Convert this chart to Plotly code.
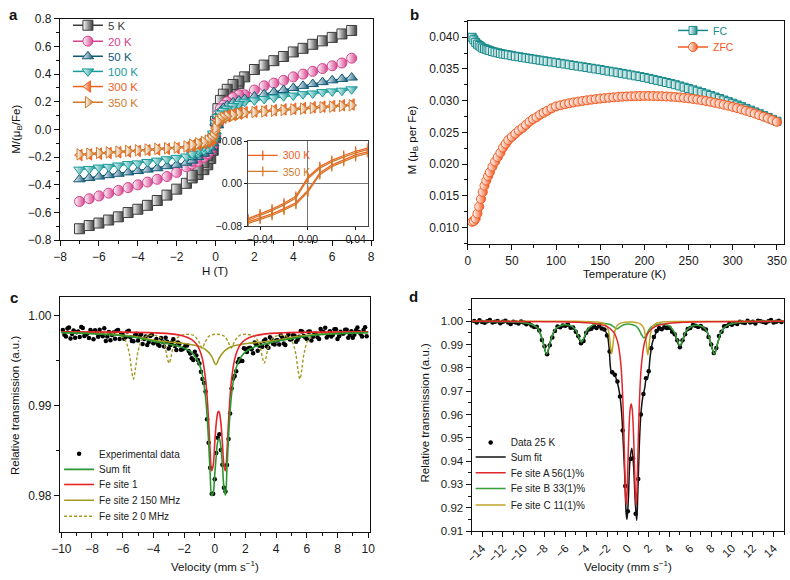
import plotly.graph_objects as go

FONT = "Liberation Sans, Arial, Helvetica, sans-serif"
FIG_W, FIG_H = 790, 580


def px(x):
    return x / FIG_W


def py(y):
    return 1 - y / FIG_H


# ------------------------------------------------------------------ panel a
TEMPS = ["5 K", "20 K", "50 K", "100 K", "300 K", "350 K"]
H_LEFT = [-7.0, -6.5, -6.0, -5.5, -5.0, -4.5, -4.0, -3.5, -3.0, -2.5, -2.0, -1.5]
H_RIGHT = [1.5, 2.0, 2.5, 3.0, 3.5, 4.0, 4.5, 5.0, 5.5, 6.0, 6.5, 7.0]
H_INNER = [-1.2, -0.9, -0.6, -0.4, -0.25, -0.12, 0.0, 0.12, 0.25, 0.4, 0.6, 0.9, 1.2]

M_LEFT_5K = [-0.717, -0.694, -0.676, -0.654, -0.631, -0.600, -0.576, -0.548, -0.513, -0.474, -0.431, -0.389]
M_RIGHT_5K = [0.380, 0.433, 0.465, 0.497, 0.527, 0.560, 0.586, 0.615, 0.640, 0.665, 0.690, 0.715]
M_UP_5K = [-0.350, -0.325, -0.290, -0.255, -0.210, -0.150, -0.060, 0.050, 0.130, 0.190, 0.240, 0.290, 0.330]
M_DOWN_5K = [-0.330, -0.290, -0.240, -0.190, -0.130, -0.050, 0.060, 0.150, 0.210, 0.255, 0.290, 0.325, 0.350]

M_LEFT_20K = [-0.520, -0.500, -0.480, -0.460, -0.440, -0.420, -0.400, -0.380, -0.360, -0.340, -0.310, -0.270]
M_RIGHT_20K = [0.250, 0.285, 0.315, 0.335, 0.355, 0.380, 0.400, 0.420, 0.440, 0.460, 0.480, 0.515]
M_UP_20K = [-0.250, -0.230, -0.200, -0.175, -0.150, -0.110, -0.050, 0.040, 0.090, 0.130, 0.170, 0.200, 0.230]
M_DOWN_20K = [-0.230, -0.200, -0.170, -0.130, -0.090, -0.040, 0.050, 0.110, 0.150, 0.175, 0.200, 0.230, 0.250]

M_LEFT_50K = [-0.360, -0.350, -0.340, -0.330, -0.320, -0.310, -0.300, -0.290, -0.280, -0.265, -0.255, -0.240]
M_RIGHT_50K = [0.220, 0.238, 0.255, 0.270, 0.285, 0.300, 0.315, 0.328, 0.342, 0.355, 0.365, 0.375]
M_UP_50K = [-0.225, -0.200, -0.175, -0.155, -0.130, -0.100, -0.050, 0.030, 0.080, 0.110, 0.140, 0.170, 0.200]
M_DOWN_50K = [-0.200, -0.170, -0.140, -0.110, -0.080, -0.030, 0.050, 0.100, 0.130, 0.155, 0.175, 0.195, 0.210]

M_LEFT_100K = [-0.290, -0.285, -0.275, -0.270, -0.260, -0.250, -0.245, -0.235, -0.225, -0.215, -0.205, -0.195]
M_RIGHT_100K = [0.200, 0.210, 0.220, 0.230, 0.240, 0.245, 0.255, 0.260, 0.270, 0.275, 0.280, 0.290]
M_UP_100K = [-0.185, -0.170, -0.150, -0.135, -0.115, -0.090, -0.045, 0.030, 0.070, 0.100, 0.125, 0.150, 0.175]
M_DOWN_100K = [-0.175, -0.150, -0.125, -0.100, -0.070, -0.030, 0.045, 0.090, 0.115, 0.135, 0.150, 0.170, 0.185]

M_LEFT_300K = [-0.185, -0.180, -0.175, -0.170, -0.165, -0.160, -0.155, -0.150, -0.145, -0.140, -0.135, -0.128]
M_RIGHT_300K = [0.125, 0.130, 0.135, 0.140, 0.145, 0.150, 0.155, 0.160, 0.165, 0.170, 0.175, 0.180]
M_UP_300K = [-0.120, -0.110, -0.100, -0.090, -0.080, -0.065, -0.010, 0.060, 0.075, 0.085, 0.095, 0.105, 0.115]
M_DOWN_300K = [-0.115, -0.105, -0.095, -0.085, -0.075, -0.060, 0.010, 0.065, 0.080, 0.090, 0.100, 0.110, 0.120]

M_LEFT_350K = [-0.180, -0.175, -0.170, -0.165, -0.160, -0.155, -0.150, -0.145, -0.140, -0.135, -0.130, -0.123]
M_RIGHT_350K = [0.120, 0.125, 0.130, 0.135, 0.140, 0.145, 0.150, 0.155, 0.160, 0.165, 0.170, 0.175]
M_UP_350K = [-0.115, -0.105, -0.095, -0.085, -0.075, -0.060, -0.008, 0.055, 0.070, 0.080, 0.090, 0.100, 0.110]
M_DOWN_350K = [-0.110, -0.100, -0.090, -0.080, -0.070, -0.055, 0.008, 0.060, 0.075, 0.085, 0.095, 0.105, 0.115]

# inset of panel a
H_INSET = [-0.05, -0.04, -0.03, -0.02, -0.01, 0.0, 0.01, 0.02, 0.03, 0.04, 0.05]
M_INSET_UP_300K = [-0.072, -0.064, -0.057, -0.047, -0.036, -0.013, 0.020, 0.035, 0.045, 0.054, 0.060]
M_INSET_DOWN_300K = [-0.066, -0.057, -0.048, -0.037, -0.024, 0.012, 0.032, 0.044, 0.053, 0.061, 0.067]
M_INSET_UP_350K = [-0.075, -0.067, -0.060, -0.050, -0.039, -0.016, 0.017, 0.032, 0.042, 0.051, 0.057]
M_INSET_DOWN_350K = [-0.069, -0.060, -0.051, -0.040, -0.027, 0.009, 0.029, 0.041, 0.050, 0.058, 0.064]

# ------------------------------------------------------------------ panel b
T_GRID = [5, 7, 9, 11, 13, 15, 17, 19, 21, 23, 25, 28, 31, 34, 37, 40, 43, 46,
          50, 54, 58, 62, 66, 70, 74, 78, 82, 86, 90, 95] + list(range(100, 355, 5))
M_FC = [0.0400, 0.0396, 0.0392, 0.0389, 0.0387, 0.0385, 0.0383, 0.0382, 0.0381, 0.0380,
        0.0379, 0.03775, 0.03765, 0.03755, 0.03745, 0.03735, 0.03728, 0.03722,
        0.0371, 0.03701, 0.03692, 0.03683, 0.03674, 0.03665, 0.03656, 0.03647, 0.03638, 0.03629, 0.0362,
        0.0361,
        0.0360, 0.03589, 0.03578, 0.03567, 0.03556, 0.03545, 0.03534, 0.03523, 0.03512, 0.03501,
        0.0349, 0.03478, 0.03466, 0.03454, 0.03442, 0.0343, 0.03418, 0.03405, 0.03392, 0.0338,
        0.03367, 0.03352, 0.03336, 0.0332, 0.03304, 0.03287, 0.0327, 0.03252, 0.03233, 0.03213,
        0.03192, 0.03171, 0.0315, 0.03128, 0.03105, 0.03082, 0.03058, 0.03034, 0.0301, 0.02985,
        0.0296, 0.02933, 0.02906, 0.02879, 0.02851, 0.02823, 0.02794, 0.02765, 0.02736, 0.02706,
        0.02676]
M_ZFC = [0.0109, 0.0110, 0.0114, 0.0122, 0.0133, 0.0145, 0.0156, 0.0166, 0.0174, 0.0181,
         0.0187, 0.0196, 0.0204, 0.0211, 0.0218, 0.0226, 0.0232, 0.0238,
         0.0243, 0.0248, 0.0253, 0.0257, 0.0262, 0.0267, 0.0271, 0.0274, 0.0278, 0.0281, 0.0284,
         0.0288,
         0.0291, 0.02928, 0.02945, 0.0296, 0.02973, 0.02985, 0.02996, 0.03006, 0.03016, 0.03025,
         0.03033, 0.0304, 0.03047, 0.03053, 0.03058, 0.03063, 0.03067, 0.0307, 0.03072, 0.03074,
         0.03075, 0.03075, 0.03074, 0.03072, 0.0307, 0.03067, 0.03063, 0.03058, 0.03052, 0.03045,
         0.03037, 0.03028, 0.03018, 0.03007, 0.02995, 0.02982, 0.02968, 0.02953, 0.02937, 0.0292,
         0.02902, 0.02883, 0.02863, 0.02842, 0.0282, 0.02797, 0.02773, 0.02748, 0.02722, 0.02695,
         0.02667]

# ------------------------------------------------------------------ panel c
V_C = [round(-9.9 + 0.2 * i, 2) for i in range(100)]
T_C_DATA = [0.99837, 0.99766, 0.99865, 0.99794, 0.99753, 0.99822, 0.99871, 0.99770, 0.99798, 0.99837,
            0.99735, 0.99803, 0.99841, 0.99769, 0.99717, 0.99815, 0.99782, 0.99740, 0.99838, 0.99795,
            0.99742, 0.99820, 0.99757, 0.99713, 0.99797, 0.99761, 0.99683, 0.99765, 0.99706, 0.99786,
            0.99709, 0.99676, 0.99750, 0.99654, 0.99708, 0.99672, 0.99735, 0.99615, 0.99685, 0.99623,
            0.99670, 0.99605, 0.99526, 0.99598, 0.99505, 0.99375, 0.99250, 0.98849, 0.98311, 0.98024,
            0.98476, 0.98684, 0.98345, 0.98050, 0.98630, 0.99191, 0.99327, 0.99480, 0.99494, 0.99635,
            0.99595, 0.99642, 0.99580, 0.99682, 0.99662, 0.99652, 0.99732, 0.99642, 0.99740, 0.99677,
            0.99724, 0.99780, 0.99687, 0.99755, 0.99732, 0.99780, 0.99707, 0.99764, 0.99820, 0.99755,
            0.99819, 0.99722, 0.99795, 0.99758, 0.99850, 0.99812, 0.99754, 0.99825, 0.99786, 0.99847,
            0.99768, 0.99800, 0.99841, 0.99752, 0.99823, 0.99784, 0.99865, 0.99796, 0.99837, 0.99768]
V_C2 = [round(-9.8 + 0.2 * j, 2) for j in range(99)]
T_C_DATA2 = [0.99786, 0.99855, 0.99744, 0.99833, 0.99812, 0.99761, 0.99860, 0.99789, 0.99748, 0.99816,
             0.99834, 0.99762, 0.99790, 0.99858, 0.99766, 0.99723, 0.99811, 0.99829, 0.99737, 0.99784,
             0.99761, 0.99828, 0.99715, 0.99780, 0.99721, 0.99787, 0.99739, 0.99671, 0.99771, 0.99692,
             0.99737, 0.99663, 0.99707, 0.99751, 0.99632, 0.99698, 0.99660, 0.99700, 0.99619, 0.99637,
             0.99667, 0.99576, 0.99506, 0.99555, 0.99467, 0.99295, 0.99156, 0.98590, 0.98023, 0.98185,
             0.98644, 0.98508, 0.98090, 0.98343, 0.98912, 0.99300, 0.99380, 0.99515, 0.99495, 0.99626,
             0.99635, 0.99625, 0.99698, 0.99608, 0.99668, 0.99717, 0.99657, 0.99756, 0.99684, 0.99720,
             0.99677, 0.99754, 0.99671, 0.99788, 0.99736, 0.99773, 0.99730, 0.99827, 0.99772, 0.99737,
             0.99820, 0.99763, 0.99796, 0.99739, 0.99821, 0.99863, 0.99784, 0.99765, 0.99846, 0.99737,
             0.99819, 0.99800, 0.99841, 0.99782, 0.99753, 0.99834, 0.99815, 0.99766, 0.99867]

V_C_SUM = [-10, -8, -6, -5, -4, -3, -2, -1.5, -1.2, -1.0, -0.8, -0.6, -0.5, -0.4, -0.3, -0.2, -0.1,
           0.0, 0.1, 0.2, 0.3, 0.4, 0.5, 0.6, 0.7, 0.8, 0.9, 1.0, 1.1, 1.3, 1.5, 1.7, 2.0, 2.5, 3.5,
           4.5, 6.5, 8, 10]
T_C_SUM = [0.99808, 0.99796, 0.99774, 0.99751, 0.99712, 0.99682, 0.99637, 0.99586, 0.99525, 0.99457,
           0.99335, 0.99096, 0.98889, 0.98600, 0.98251, 0.98003, 0.98034, 0.98235, 0.98446, 0.98604,
           0.98634, 0.98538, 0.98345, 0.98090, 0.98010, 0.98313, 0.98650, 0.98932, 0.99131, 0.99357,
           0.99470, 0.99534, 0.99596, 0.99644, 0.99692, 0.99727, 0.99779, 0.99797, 0.99808]

V_C_SITE1 = [-10, -6, -4, -3, -2, -1.5, -1.2, -1.0, -0.8, -0.6, -0.5, -0.4, -0.3, -0.2, -0.1, 0.0,
             0.1, 0.2, 0.25, 0.3, 0.4, 0.5, 0.6, 0.7, 0.8, 0.9, 1.0, 1.1, 1.3, 1.5, 1.7, 2.0, 2.5,
             3.5, 4.5, 6.5, 10]
T_C_SITE1 = [0.99818, 0.99814, 0.99807, 0.99797, 0.99769, 0.99731, 0.99682, 0.99622, 0.99515, 0.99296,
             0.99104, 0.98830, 0.98503, 0.98278, 0.98339, 0.98585, 0.98808, 0.98924, 0.98938, 0.98924,
             0.98808, 0.98585, 0.98339, 0.98278, 0.98503, 0.98830, 0.99104, 0.99296, 0.99515, 0.99622,
             0.99682, 0.99731, 0.99769, 0.99797, 0.99807, 0.99814, 0.99818]

V_C_SITE2 = [-10, -8, -6, -5, -4, -3, -2, -1.5, -1, -0.6, -0.4, -0.2, 0.07, 0.3, 0.5, 0.7, 1.1, 1.6,
             2.1, 3.1, 4.1, 5.1, 6.1, 8, 10]
T_C_SITE2 = [0.9981, 0.9980, 0.9978, 0.9976, 0.99725, 0.99705, 0.99688, 0.99675, 0.99655, 0.9962,
             0.9959, 0.99545, 0.99455, 0.9953, 0.9958, 0.99615, 0.99655, 0.99675, 0.99688, 0.99705,
             0.99725, 0.9976, 0.9978, 0.9980, 0.9981]

V_C_SEXTET = [-10.0, -7.375, -6.375, -5.875, -5.575, -5.425, -5.3, -5.175, -5.025, -4.775, -4.475,
              -4.075, -3.575, -3.275, -3.075, -2.975, -2.875, -2.675, -2.375, -1.875, -1.375, -1.025,
              -0.825, -0.625, -0.375, 0.125, 0.625, 0.875, 1.075, 1.275, 1.625, 2.125, 2.625, 2.925,
              3.125, 3.225, 3.325, 3.525, 3.825, 4.325, 4.725, 5.025, 5.275, 5.425, 5.55, 5.675, 5.825,
              6.125, 6.625, 7.625, 10.0]
T_C_SEXTET = [0.99818, 0.99811, 0.99790, 0.99736, 0.99582, 0.99400, 0.99295, 0.99400, 0.99578, 0.99716,
              0.99766, 0.99780, 0.99757, 0.99670, 0.99518, 0.99471, 0.99518, 0.99671, 0.99760, 0.99789,
              0.99777, 0.99705, 0.99639, 0.99705, 0.99768, 0.99791, 0.99768, 0.99705, 0.99639, 0.99705,
              0.99777, 0.99789, 0.99760, 0.99671, 0.99518, 0.99471, 0.99518, 0.99670, 0.99757, 0.99780,
              0.99766, 0.99716, 0.99578, 0.99400, 0.99295, 0.99400, 0.99582, 0.99736, 0.99790, 0.99811,
              0.99818]

# ------------------------------------------------------------------ panel d
V_D = [round(-14.75 + 0.25 * i, 2) for i in range(119)]
T_D_DATA = [1.00015, 0.99944, 1.00043, 0.99972, 0.99930, 0.99999, 1.00048, 0.99948, 0.99976, 1.00015,
            0.99913, 0.99982, 1.00017, 0.99942, 0.99886, 0.99980, 0.99945, 0.99900, 0.99992, 0.99944,
            0.99870, 0.99910, 0.99820, 0.99755, 0.99760, 0.99600, 0.99190, 0.98930, 0.98580, 0.98970,
            0.99300, 0.99583, 0.99770, 0.99740, 0.99820, 0.99804, 0.99860, 0.99715, 0.99730, 0.99548,
            0.99360, 0.99060, 0.99150, 0.99510, 0.99640, 0.99680, 0.99760, 0.99710, 0.99800, 0.99690,
            0.99650, 0.99390, 0.98700, 0.97810, 0.97700, 0.97410, 0.96770, 0.95310, 0.92930, 0.91850,
            0.94090, 0.94120, 0.91740, 0.93230, 0.96000, 0.96880, 0.97550, 0.97850, 0.98840, 0.99320,
            0.99580, 0.99710, 0.99660, 0.99745, 0.99710, 0.99725, 0.99550, 0.99443, 0.99184, 0.98882,
            0.99182, 0.99440, 0.99670, 0.99710, 0.99840, 0.99810, 0.99750, 0.99790, 0.99690, 0.99650,
            0.99320, 0.98997, 0.98640, 0.98850, 0.99370, 0.99545, 0.99780, 0.99792, 0.99890, 0.99850,
            0.99925, 0.99880, 0.99980, 0.99950, 0.99925, 1.00020, 0.99943, 0.99975, 0.99907, 1.00019,
            1.00001, 0.99963, 0.99935, 0.99997, 1.00049, 0.99950, 0.99982, 1.00023, 0.99965]

V_D_SUM = [-15, -12, -10, -9, -8.6, -8.2, -7.8, -7.4, -7.0, -6.5, -6.0, -5.4, -5.0, -4.7, -4.45, -4.2,
           -3.9, -3.4, -2.8, -2.4, -2.0, -1.8, -1.55, -1.3, -1.0, -0.78, -0.6, -0.47, -0.3, -0.15, -0.08,
           0.05, 0.2, 0.38, 0.55, 0.7, 0.85, 0.95, 1.1, 1.25, 1.42, 1.63, 1.75, 1.92, 2.15, 2.4, 2.8, 3.5,
           4.0, 4.5, 4.75, 5.0, 5.25, 5.6, 6.2, 6.7, 7.2, 7.6, 8.0, 8.3, 8.6, 9.0, 9.5, 10.2, 12, 15]
T_D_SUM = [0.99985, 0.99972, 0.99924, 0.99805, 0.99640, 0.99195, 0.98582, 0.99184, 0.99613, 0.99780,
           0.99814, 0.99749, 0.99568, 0.99257, 0.99055, 0.99249, 0.99549, 0.99730, 0.99746, 0.99677,
           0.99440, 0.98850, 0.97780, 0.97720, 0.97350, 0.96870, 0.96100, 0.95060, 0.93400, 0.91700,
           0.91500, 0.92350, 0.94000, 0.94550, 0.93800, 0.92350, 0.91450, 0.92500, 0.94640, 0.96000,
           0.96700, 0.97150, 0.97500, 0.97600, 0.98500, 0.99150, 0.99550, 0.99725, 0.99695, 0.99443,
           0.99134, 0.98902, 0.99142, 0.99547, 0.99770, 0.99794, 0.99730, 0.99539, 0.98997, 0.98578,
           0.99009, 0.99565, 0.99802, 0.99905, 0.99965, 0.99985]

V_D_SITE_A = [-15, -7.68, -4.68, -2.98, -1.98, -1.38, -0.98, -0.68, -0.48, -0.33, -0.23, -0.16, -0.08,
              0.02, 0.12, 0.22, 0.32, 0.42, 0.52, 0.62, 0.72, 0.8, 0.87, 0.97, 1.12, 1.32, 1.62, 2.02,
              2.62, 3.62, 5.32, 8.32, 15]
T_D_SITE_A = [0.99995, 0.99983, 0.99956, 0.99896, 0.99772, 0.99545, 0.99115, 0.98200, 0.96625, 0.94332,
              0.92630, 0.92100, 0.92601, 0.94117, 0.95451, 0.96220, 0.96461, 0.96220, 0.95451, 0.94117,
              0.92601, 0.92100, 0.92630, 0.94332, 0.96625, 0.98200, 0.99115, 0.99545, 0.99772, 0.99896,
              0.99956, 0.99983, 0.99995]

V_D_SITE_B = [-15, -12, -10, -9, -8.6, -8.2, -7.8, -7.4, -7.0, -6.5, -6.0, -5.4, -5.0, -4.7, -4.45,
              -4.2, -3.9, -3.4, -2.8, -2.2, -1.7, -1.4, -1.05, -0.7, -0.3, 0.2, 0.7, 1.0, 1.3, 1.55,
              1.8, 2.2, 2.8, 3.5, 4.0, 4.5, 4.75, 5.0, 5.25, 5.6, 6.2, 6.7, 7.2, 7.6, 8.0, 8.3, 8.6,
              9.0, 9.5, 10.2, 12, 15]
T_D_SITE_B = [0.9999, 0.99979, 0.99935, 0.99818, 0.99655, 0.99212, 0.98600, 0.99204, 0.99636, 0.99806,
              0.99845, 0.99787, 0.99613, 0.99309, 0.99112, 0.99313, 0.99623, 0.99831, 0.99900, 0.99905,
              0.99859, 0.99778, 0.99671, 0.99772, 0.99862, 0.99875, 0.99808, 0.99687, 0.99441, 0.99281,
              0.99440, 0.99735, 0.99863, 0.99863, 0.99788, 0.99512, 0.99195, 0.98957, 0.99192, 0.99590,
              0.99805, 0.99824, 0.99755, 0.99561, 0.99017, 0.98597, 0.99026, 0.99580, 0.99816, 0.99916,
              0.99973, 0.9999]

V_D_SITE_C = [-15, -5, -3, -2.4, -2.0, -1.8, -1.65, -1.55, -1.45, -1.3, -1.1, -0.8, -0.3, 0.2, 0.7,
              1.2, 1.5, 1.7, 1.82, 1.92, 2.02, 2.15, 2.4, 2.8, 3.5, 5, 15]
T_D_SITE_C = [1.0, 0.99994, 0.99972, 0.99925, 0.99768, 0.99458, 0.98891, 0.98615, 0.98891, 0.99456,
              0.99766, 0.99901, 0.99954, 0.99963, 0.99952, 0.99890, 0.99730, 0.99348, 0.98851, 0.98565,
              0.98851, 0.99380, 0.99785, 0.99926, 0.99975, 0.99993, 1.0]

# ------------------------------------------------------------------ styles
COL_A = {"5 K": "#3c3c3c", "20 K": "#d6428e", "50 K": "#0f5876", "100 K": "#179a9a",
         "300 K": "#f2601f", "350 K": "#cf7a2c"}
SYM_A = {"5 K": "square", "20 K": "circle", "50 K": "triangle-up", "100 K": "triangle-down",
         "300 K": "triangle-left", "350 K": "triangle-right"}
SERIES_A = {
    "5 K": (M_LEFT_5K, M_UP_5K, M_RIGHT_5K, M_DOWN_5K),
    "20 K": (M_LEFT_20K, M_UP_20K, M_RIGHT_20K, M_DOWN_20K),
    "50 K": (M_LEFT_50K, M_UP_50K, M_RIGHT_50K, M_DOWN_50K),
    "100 K": (M_LEFT_100K, M_UP_100K, M_RIGHT_100K, M_DOWN_100K),
    "300 K": (M_LEFT_300K, M_UP_300K, M_RIGHT_300K, M_DOWN_300K),
    "350 K": (M_LEFT_350K, M_UP_350K, M_RIGHT_350K, M_DOWN_350K),
}
COL_FC = "#17898a"
COL_ZFC = "#f05a22"
C_GREEN = "#2a962f"
C_RED = "#e8242b"
C_OLIVE = "#a39a22"
D_RED = "#e0262b"
D_GREEN = "#35a03a"
D_OLIVE = "#c0a52a"

fig = go.Figure()
legends = {}


def new_legend(glyph_x, center_y, size=11, dy=0.0):
    n = len(legends) + 1
    name = "legend" if n == 1 else "legend%d" % n
    legends[name] = dict(x=px(glyph_x - 11), y=py(center_y + dy), xanchor="left", yanchor="middle",
                         bgcolor="rgba(0,0,0,0)", borderwidth=0, itemwidth=30,
                         font=dict(family=FONT, size=size, color="#1a1a1a"),
                         tracegroupgap=0, itemclick=False, itemdoubleclick=False)
    return name


def colored(text, col):
    return '<span style="color:%s">%s</span>' % (col, text)


def half_marker(symbol, size, col):
    return dict(symbol=symbol, size=size, color="white", line=dict(color=col, width=1),
                gradient=dict(type="horizontal", color=col))


# ---- panel a traces
a_legend_y = [24.7, 41, 56.5, 72, 87.5, 103.5]
for k, temp in enumerate(TEMPS):
    left, up, right, down = SERIES_A[temp]
    col = COL_A[temp]
    xs = H_LEFT + H_INNER + H_RIGHT + [None] + H_INNER[::-1]
    ys = left + up + right + [None] + down[::-1]
    fig.add_trace(go.Scatter(
        x=xs, y=ys, mode="lines+markers", name=colored(temp, col),
        legend=new_legend(71, a_legend_y[k], 11.5, dy=-6),
        line=dict(color=col, width=1.5),
        marker=half_marker(SYM_A[temp], 10, col),
        xaxis="x", yaxis="y"))

# ---- inset traces
for k, (temp, up, down) in enumerate([("300 K", M_INSET_UP_300K, M_INSET_DOWN_300K),
                                       ("350 K", M_INSET_UP_350K, M_INSET_DOWN_350K)]):
    col = COL_A[temp]
    fig.add_trace(go.Scatter(
        x=H_INSET + [None] + H_INSET[::-1], y=up + [None] + down[::-1],
        mode="lines+markers", name=colored(temp, col),
        legend=new_legend(249, [155, 171.5][k], 10.5, dy=-3),
        line=dict(color=col, width=1.3),
        marker=dict(symbol="line-ns", size=7, color=col, line=dict(color=col, width=1.3)),
        xaxis="x5", yaxis="y5"))

# ---- panel b traces
fig.add_trace(go.Scatter(
    x=T_GRID, y=M_FC, mode="lines+markers", name=colored("FC", COL_FC),
    legend=new_legend(687, 30, 10.5, dy=-6),
    line=dict(color=COL_FC, width=1.5),
    marker=half_marker("square", 8, COL_FC),
    xaxis="x2", yaxis="y2"))
fig.add_trace(go.Scatter(
    x=T_GRID, y=M_ZFC, mode="lines+markers", name=colored("ZFC", COL_ZFC),
    legend=new_legend(687, 47, 10.5, dy=-6),
    line=dict(color=COL_ZFC, width=1.5),
    marker=half_marker("circle", 9, COL_ZFC),
    xaxis="x2", yaxis="y2"))

# ---- panel c traces
c_leg = [453.3, 469.3, 484.8, 501, 517.3]
fig.add_trace(go.Scatter(x=V_C + V_C2, y=T_C_DATA + T_C_DATA2, mode="markers",
                         name="Experimental data",
                         legend=new_legend(62, c_leg[0], 10, dy=4.5),
                         marker=dict(color="#000000", size=4.5), xaxis="x3", yaxis="y3"))
fig.add_trace(go.Scatter(x=V_C_SEXTET, y=T_C_SEXTET, mode="lines", name="Fe site 2 0 MHz",
                         legend=new_legend(62, c_leg[4], 10, dy=4.5),
                         line=dict(color=C_OLIVE, width=1.4, dash="3px,2px", shape="spline"),
                         xaxis="x3", yaxis="y3"))
fig.add_trace(go.Scatter(x=V_C_SITE2, y=T_C_SITE2, mode="lines", name="Fe site 2 150 MHz",
                         legend=new_legend(62, c_leg[3], 10, dy=4.5),
                         line=dict(color=C_OLIVE, width=1.6, shape="spline"),
                         xaxis="x3", yaxis="y3"))
fig.add_trace(go.Scatter(x=V_C_SITE1, y=T_C_SITE1, mode="lines", name="Fe site 1",
                         legend=new_legend(62, c_leg[2], 10, dy=4.5),
                         line=dict(color=C_RED, width=1.6, shape="spline"),
                         xaxis="x3", yaxis="y3"))
fig.add_trace(go.Scatter(x=V_C_SUM, y=T_C_SUM, mode="lines", name="Sum fit",
                         legend=new_legend(62, c_leg[1], 10, dy=4.5),
                         line=dict(color=C_GREEN, width=1.6, shape="spline"),
                         xaxis="x3", yaxis="y3"))

# ---- panel d traces
d_leg = [441.7, 456.7, 472.7, 489, 505.7]
fig.add_trace(go.Scatter(x=V_D, y=T_D_DATA, mode="markers", name="Data 25 K",
                         legend=new_legend(481, d_leg[0], 10, dy=4.5),
                         marker=dict(color="#000000", size=4.5), xaxis="x4", yaxis="y4"))
fig.add_trace(go.Scatter(x=V_D_SUM, y=T_D_SUM, mode="lines", name="Sum fit",
                         legend=new_legend(481, d_leg[1], 10, dy=4.5),
                         line=dict(color="#111111", width=1.5, shape="spline"),
                         xaxis="x4", yaxis="y4"))
fig.add_trace(go.Scatter(x=V_D_SITE_B, y=T_D_SITE_B, mode="lines", name="Fe site B 33(1)%",
                         legend=new_legend(481, d_leg[3], 10, dy=4.5),
                         line=dict(color=D_GREEN, width=1.5, shape="spline"),
                         xaxis="x4", yaxis="y4"))
fig.add_trace(go.Scatter(x=V_D_SITE_C, y=T_D_SITE_C, mode="lines", name="Fe site C 11(1)%",
                         legend=new_legend(481, d_leg[4], 10, dy=4.5),
                         line=dict(color=D_OLIVE, width=1.5, shape="spline"),
                         xaxis="x4", yaxis="y4"))
fig.add_trace(go.Scatter(x=V_D_SITE_A, y=T_D_SITE_A, mode="lines", name="Fe site A 56(1)%",
                         legend=new_legend(481, d_leg[2], 10, dy=4.5),
                         line=dict(color=D_RED, width=1.5, shape="spline"),
                         xaxis="x4", yaxis="y4"))


# ------------------------------------------------------------------ axes
def axis(domain, rng, anchor, size=12, **kw):
    d = dict(domain=domain, range=rng, anchor=anchor, showline=True, linecolor="#111111",
             linewidth=1.3, mirror=True, ticks="outside", ticklen=5, tickwidth=1.2,
             tickcolor="#111111", showgrid=False, zeroline=False,
             tickfont=dict(family=FONT, size=size, color="#1a1a1a"))
    d.update(kw)
    return d


def minor(dtick, tick0=0, ln=3):
    return dict(ticks="outside", ticklen=ln, tickwidth=1, tickcolor="#111111",
                dtick=dtick, tick0=tick0, showgrid=False)


layout_axes = dict(
    xaxis=axis([px(52), px(371)], [-8, 8.12], "y", tickmode="linear", tick0=-8, dtick=2,
               minor=minor(1)),
    yaxis=axis([py(239), py(12)], [-0.8, 0.8], "x", tickmode="linear", tick0=-0.8, dtick=0.2,
               tickformat=".1f", minor=minor(0.1)),
    xaxis5=axis([px(243.5), px(365)], [-0.05, 0.05], "y5", size=10.5, tickmode="array",
                tickvals=[-0.04, 0.0, 0.04], tickformat=".2f", ticklen=3, linecolor="#444444",
                linewidth=1, zeroline=True, zerolinecolor="#777777", zerolinewidth=1),
    yaxis5=axis([py(224.5), py(137.5)], [-0.08, 0.08], "x5", size=10.5, tickmode="array",
                tickvals=[-0.08, 0.0, 0.08], tickformat=".2f", ticklen=3, linecolor="#444444",
                linewidth=1, zeroline=True, zerolinecolor="#777777", zerolinewidth=1),
    xaxis2=axis([px(467), px(789)], [0, 358], "y2", tickmode="linear", tick0=0, dtick=50,
                minor=minor(25)),
    yaxis2=axis([py(243), py(14)], [0.00738, 0.04262], "x2", tickmode="linear", tick0=0.01,
                dtick=0.005, tickformat=".3f", minor=minor(0.0025)),
    xaxis3=axis([px(52), px(368)], [-10.08, 10.15], "y3", tickmode="linear", tick0=-10, dtick=2,
                minor=minor(1)),
    yaxis3=axis([py(538), py(297)], [0.976, 1.00205], "x3", tickmode="array",
                tickvals=[0.98, 0.99, 1.00], tickformat=".2f", minor=minor(0.005)),
    xaxis4=axis([px(471), px(789)], [-15, 15], "y4", size=11.5, tickmode="linear", tick0=-14,
                dtick=2, tickangle=-45, minor=minor(1)),
    yaxis4=axis([py(537), py(299)], [0.91, 1.00963], "x4", size=11.5, tickmode="linear",
                tick0=0.91, dtick=0.01, tickformat=".2f", minor=minor(0.005)),
)


# ------------------------------------------------------------------ text
def label(x, y, text, size=11.5, angle=0, bold=False, anchor="center"):
    return dict(x=px(x), y=py(y), xref="paper", yref="paper",
                text=("<b>%s</b>" % text) if bold else text,
                showarrow=False, textangle=angle, xanchor=anchor, yanchor="middle",
                font=dict(family=FONT, size=size, color="#111111"))


annotations = [
    label(5, 8, "a", 15, bold=True),
    label(413, 8, "b", 15, bold=True),
    label(5, 298, "c", 15, bold=True),
    label(412, 297, "d", 15, bold=True),
    label(210, 271, "H (T)"),
    label(8, 125, "M/(μ<sub>B</sub>/Fe)", angle=-90),
    label(627, 274, "Temperature (K)"),
    label(411, 136, "M (μ<sub>B</sub> per Fe)", angle=-90),
    label(210, 573, "Velocity (mm s<sup>−1</sup>)"),
    label(6, 408, "Relative transmission (a.u.)", angle=-90),
    label(630, 573, "Velocity (mm s<sup>−1</sup>)"),
    label(423, 416, "Relative transmission (a.u.)", angle=-90),
]

fig.update_layout(
    width=FIG_W, height=FIG_H, margin=dict(l=0, r=0, t=0, b=0),
    paper_bgcolor="white", plot_bgcolor="white",
    font=dict(family=FONT, size=11, color="#111111"),
    showlegend=True, annotations=annotations, **layout_axes, **legends)

fig.write_html("out.html", config={"displayModeBar": False},
               post_script="document.body.style.margin='0px';document.body.style.overflow='hidden';")
